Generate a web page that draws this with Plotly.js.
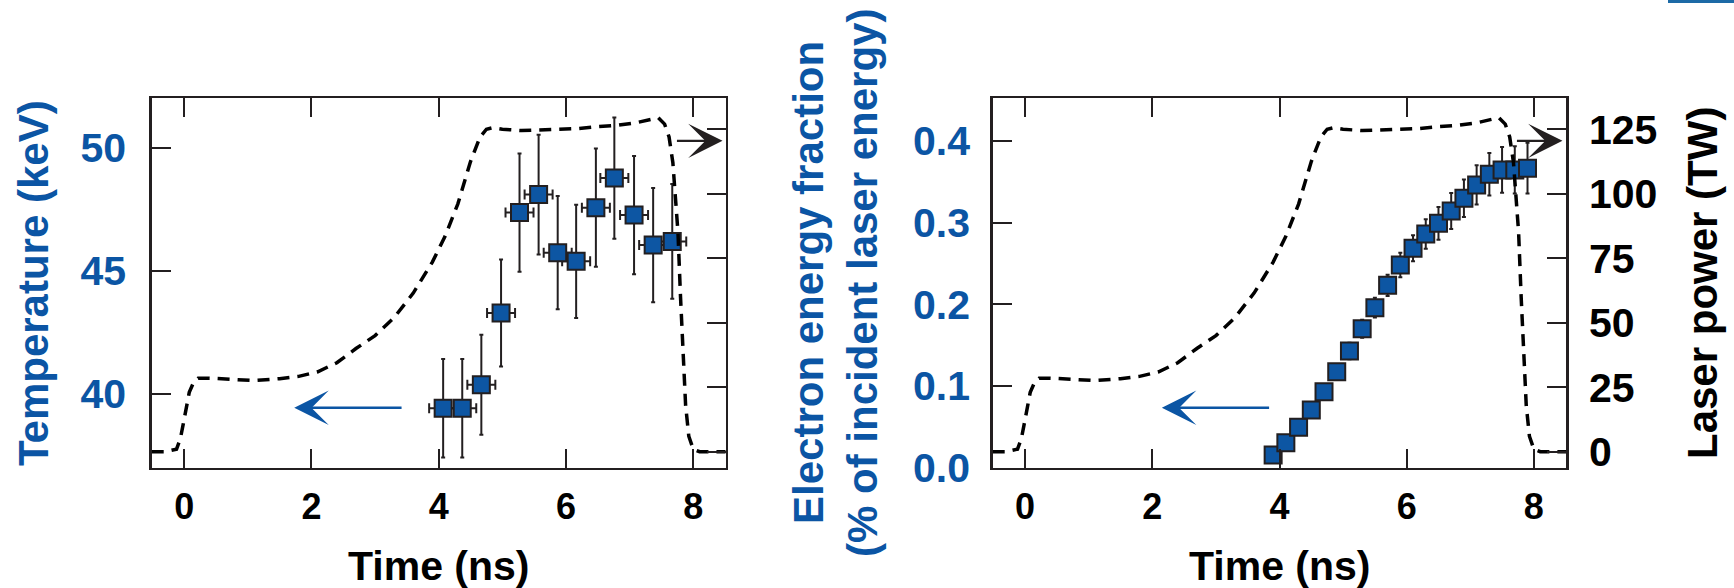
<!DOCTYPE html>
<html>
<head>
<meta charset="utf-8">
<script src="https://cdn.plot.ly/plotly-3.0.1.min.js"></script>
<style>html,body{margin:0;padding:0;background:#fff;}#chart{width:1734px;height:588px;}</style>
</head>
<body>
<div id="chart"></div>
<script>
// ---- Data ----
const tempTime = [4.07, 4.37, 4.67, 4.98, 5.27, 5.57, 5.87, 6.16, 6.47, 6.76, 7.07, 7.37, 7.67];
const temperature = [39.41, 39.41, 40.37, 43.28, 47.36, 48.09, 45.73, 45.38, 47.56, 48.76, 47.26, 46.04, 46.19];
const temperatureErr = [2.0, 2.0, 2.03, 2.17, 2.4, 2.43, 2.3, 2.3, 2.4, 2.46, 2.4, 2.32, 2.33];
const tempTimeErr = [0.22, 0.22, 0.22, 0.22, 0.22, 0.22, 0.22, 0.22, 0.22, 0.22, 0.22, 0.22, 0.22];

const fracTime = [3.9, 4.1, 4.3, 4.5, 4.7, 4.9, 5.1, 5.3, 5.5, 5.7, 5.9, 6.1, 6.3, 6.5, 6.7, 6.9, 7.1, 7.3, 7.5, 7.7, 7.9];
const fraction = [0.0155, 0.0306, 0.0494, 0.0706, 0.093, 0.1175, 0.1428, 0.170, 0.1958, 0.2232, 0.248, 0.2685, 0.286, 0.299, 0.314, 0.3297, 0.346, 0.359, 0.3644, 0.3644, 0.3665];
const fractionErr = [0.004, 0.005, 0.006, 0.007, 0.008, 0.009, 0.010, 0.011, 0.012, 0.013, 0.015, 0.016, 0.018, 0.020, 0.022, 0.023, 0.024, 0.026, 0.028, 0.029, 0.031];

const laserTime = [-0.51, -0.3, -0.12, -0.06, -0.02, 0.03, 0.08, 0.15, 0.22, 0.4, 0.8, 1.1, 1.5, 1.8, 2.1, 2.4, 2.7, 3.0, 3.3, 3.6, 3.9, 4.1, 4.3, 4.5, 4.65, 4.75, 4.85, 5.0, 5.3, 5.6, 5.9, 6.2, 6.5, 6.8, 7.1, 7.3, 7.45, 7.55, 7.62, 7.68, 7.72, 7.76, 7.8, 7.84, 7.88, 7.93, 8.0, 8.1, 8.51];
const laserPower = [0, 0, 1, 5, 10, 17, 23, 27, 28.5, 28.5, 28, 27.6, 28.3, 29.2, 31, 34.5, 40, 45, 52, 61.5, 73.5, 83.5, 96, 112.5, 122, 125, 125.6, 125, 124.5, 124.8, 125, 125.3, 126, 126.5, 127.5, 128.5, 129.5, 127, 122, 112, 100, 85, 60, 38, 18, 6, 1, 0, 0];

const tempTicks = [40, 45, 50];
const fracTicks = [0, 0.1, 0.2, 0.3, 0.4];
const fracTickText = ['0.0', '0.1', '0.2', '0.3', '0.4'];
const powerTicks = [0, 25, 50, 75, 100, 125];
const timeTicks = [0, 2, 4, 6, 8];

// ---- Style ----
const W = 1734, H = 588;
const BLUE = '#0b55a4';
const MARK = '#0d56a3';
const INK = '#231f20';
const FONT = 'Liberation Sans, Arial, Helvetica, sans-serif';
const px = v => v / W;
const py = v => 1 - v / H;
const yDom = [py(467.7), py(98.3)];

const axBase = {
  showline: true, linecolor: INK, linewidth: 2.5,
  ticks: 'inside', ticklen: 19, tickwidth: 2, tickcolor: INK,
  showgrid: false, zeroline: false, fixedrange: true
};

const dashLine = {color: '#000', width: 3.5, dash: '12px,8px'};

const traces = [
  {
    x: tempTime, y: temperature, xaxis: 'x', yaxis: 'y', type: 'scatter', mode: 'markers',
    marker: {symbol: 'square', size: 17, color: MARK, line: {color: INK, width: 2}},
    error_y: {type: 'data', array: temperatureErr, visible: true, color: INK, thickness: 2, width: 2},
    error_x: {type: 'data', array: tempTimeErr, visible: true, color: INK, thickness: 2, width: 5},
    showlegend: false
  },
  {
    x: laserTime, y: laserPower, xaxis: 'x', yaxis: 'y2', type: 'scatter', mode: 'lines',
    line: dashLine, showlegend: false
  },
  {
    x: fracTime, y: fraction, xaxis: 'x2', yaxis: 'y3', type: 'scatter', mode: 'markers',
    marker: {symbol: 'square', size: 17, color: MARK, line: {color: INK, width: 2}},
    error_y: {type: 'data', array: fractionErr, visible: true, color: INK, thickness: 2, width: 2},
    showlegend: false
  },
  {
    x: laserTime, y: laserPower, xaxis: 'x2', yaxis: 'y4', type: 'scatter', mode: 'lines',
    line: dashLine, showlegend: false
  }
];

const xTickFont = {family: FONT, size: 36, color: '#000', weight: 'bold'};
const yTickFontBlue = {family: FONT, size: 41, color: BLUE, weight: 'bold'};
const yTickFontBlack = {family: FONT, size: 41, color: '#000', weight: 'bold'};

const layout = {
  width: W, height: H,
  margin: {l: 0, r: 0, t: 0, b: 0, pad: 0},
  paper_bgcolor: '#fff', plot_bgcolor: '#fff',
  showlegend: false,
  xaxis: Object.assign({}, axBase, {
    domain: [px(151.7), px(725.7)], anchor: 'y', range: [-0.51, 8.51],
    tickvals: timeTicks, mirror: 'ticks', tickfont: xTickFont, ticklabelstandoff: 6
  }),
  yaxis: Object.assign({}, axBase, {
    domain: yDom, anchor: 'x', range: [37, 52], tickvals: tempTicks,
    tickfont: yTickFontBlue, ticklabelstandoff: 15
  }),
  yaxis2: Object.assign({}, axBase, {
    overlaying: 'y', side: 'right', anchor: 'x', range: [-6.2, 137],
    tickvals: powerTicks, showticklabels: false
  }),
  xaxis2: Object.assign({}, axBase, {
    domain: [px(992.7), px(1566.3)], anchor: 'y3', range: [-0.51, 8.51],
    tickvals: timeTicks, mirror: 'ticks', tickfont: xTickFont, ticklabelstandoff: 6
  }),
  yaxis3: Object.assign({}, axBase, {
    domain: yDom, anchor: 'x2', range: [0, 0.452], tickvals: fracTicks, ticktext: fracTickText,
    tickfont: yTickFontBlue, ticklabelstandoff: 12
  }),
  yaxis4: Object.assign({}, axBase, {
    overlaying: 'y3', side: 'right', anchor: 'x2', range: [-6.2, 137],
    tickvals: powerTicks, tickfont: yTickFontBlack, ticklabelstandoff: 12
  }),
  shapes: [
    {type: 'rect', xref: 'paper', yref: 'paper', x0: px(1668), x1: 1, y0: py(3), y1: 1,
     fillcolor: '#1c6aa6', line: {width: 0}}
  ],
  annotations: [
    // axis titles
    {xref: 'paper', yref: 'paper', x: px(438.7), y: py(566), text: 'Time (ns)', showarrow: false,
     xanchor: 'center', yanchor: 'middle', font: {family: FONT, size: 41, color: '#000', weight: 'bold'}},
    {xref: 'paper', yref: 'paper', x: px(1279.5), y: py(566), text: 'Time (ns)', showarrow: false,
     xanchor: 'center', yanchor: 'middle', font: {family: FONT, size: 41, color: '#000', weight: 'bold'}},
    {xref: 'paper', yref: 'paper', x: px(33), y: py(283), text: 'Temperature (keV)', showarrow: false,
     textangle: -90, xanchor: 'center', yanchor: 'middle', font: {family: FONT, size: 42, color: BLUE, weight: 'bold'}},
    {xref: 'paper', yref: 'paper', x: px(808), y: py(283), text: 'Electron energy fraction', showarrow: false,
     textangle: -90, xanchor: 'center', yanchor: 'middle', font: {family: FONT, size: 42, color: BLUE, weight: 'bold'}},
    {xref: 'paper', yref: 'paper', x: px(862), y: py(283), text: '(% of incident laser energy)', showarrow: false,
     textangle: -90, xanchor: 'center', yanchor: 'middle', font: {family: FONT, size: 42, color: BLUE, weight: 'bold'}},
    {xref: 'paper', yref: 'paper', x: px(1702), y: py(283), text: 'Laser power (TW)', showarrow: false,
     textangle: -90, xanchor: 'center', yanchor: 'middle', font: {family: FONT, size: 42, color: '#000', weight: 'bold'}},
    // arrows: blue (points to left axis), black (points to right axis)
    {xref: 'x', yref: 'y2', x: 1.73, y: 17, axref: 'x', ayref: 'y2', ax: 3.44, ay: 17, text: '',
     showarrow: true, arrowhead: 3, arrowsize: 2.3, arrowwidth: 2.5, arrowcolor: BLUE},
    {xref: 'x2', yref: 'y4', x: 2.15, y: 17, axref: 'x2', ayref: 'y4', ax: 3.86, ay: 17, text: '',
     showarrow: true, arrowhead: 3, arrowsize: 2.3, arrowwidth: 2.5, arrowcolor: BLUE},
    {xref: 'x', yref: 'y2', x: 8.46, y: 120.5, axref: 'x', ayref: 'y2', ax: 7.72, ay: 120.5, text: '',
     showarrow: true, arrowhead: 3, arrowsize: 2.6, arrowwidth: 2.2, arrowcolor: INK},
    {xref: 'x2', yref: 'y4', x: 8.45, y: 120.5, axref: 'x2', ayref: 'y4', ax: 7.71, ay: 120.5, text: '',
     showarrow: true, arrowhead: 3, arrowsize: 2.6, arrowwidth: 2.2, arrowcolor: INK}
  ]
};

Plotly.newPlot('chart', traces, layout, {displayModeBar: false, staticPlot: true});
</script>
</body>
</html>
